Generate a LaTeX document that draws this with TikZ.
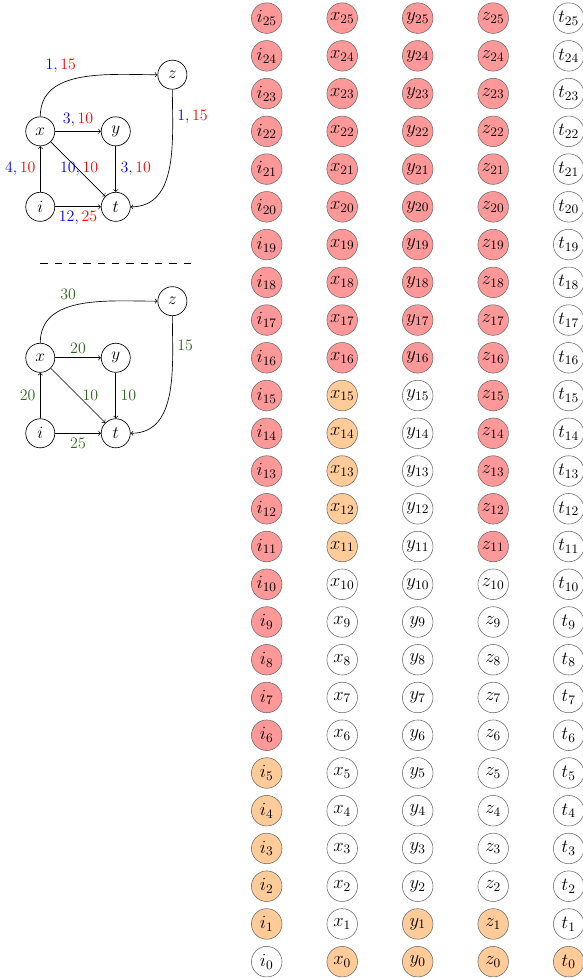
\documentclass[tikz,border=0pt]{standalone}
\usepackage{fix-cm}
\usetikzlibrary{positioning}
\colorlet{hot}{red!40}
\colorlet{warm}{orange!40}
\definecolor{capgreen}{RGB}{45,100,30}

\begin{document}
\begin{tikzpicture}[
    node distance=2cm, on grid,
    vertex/.style={draw, circle, line width=0.5pt, minimum size=0.77cm, inner sep=0pt, font=\fontsize{13}{15}\selectfont},
    cell/.style={draw=black!60, circle, minimum size=0.81cm, inner sep=0pt, font=\fontsize{14}{16}\selectfont},
    lbl/.style={font=\fontsize{12}{14}\selectfont},
    caplbl/.style={lbl, text=capgreen},
    link/.style={->, line width=0.5pt}
]
\useasboundingbox (-7.067,-0.432) rectangle (8.355,25.48);

% upper graph
\node[vertex] (ui) at (-6,20) {$i$};
\node[vertex, above=of ui] (ux) {$x$};
\node[vertex, right=of ux] (uy) {$y$};
\node[vertex, right=of ui] (ut) {$t$};
\node[vertex, above right=1.5cm and 1.5cm of uy] (uz) {$z$};
\draw[link] (ui) -- node[lbl, left] {$\color{blue}4,\color{red}10$} (ux);
\draw[link] (ux) -- node[lbl, above] {$\color{blue}3,\color{red}10$} (uy);
\draw[link] (uy) -- node[lbl, right] {$\color{blue}3,\color{red}10$} (ut);
\draw[link] (ux) -- node[lbl, midway, anchor=east, xshift=6.6mm] {$\color{blue}10,\color{red}10$} (ut);
\draw[link] (ui) -- node[lbl, below] {$\color{blue}12,\color{red}25$} (ut);
\draw[link] (ux) to[out=90, in=180] node[lbl, midway, above left] {$\color{blue}1,\color{red}15$} (uz);
\draw[link] (uz) to[out=-90, in=0] node[lbl, near start, above right] {$\color{blue}1,\color{red}15$} (ut);

\draw[dash pattern=on 5.5pt off 5.3pt] (-6,18.5) -- (-2,18.5);

% lower graph
\node[vertex] (li) at (-6,14) {$i$};
\node[vertex, above=of li] (lx) {$x$};
\node[vertex, right=of lx] (ly) {$y$};
\node[vertex, right=of li] (lt) {$t$};
\node[vertex, above right=1.5cm and 1.5cm of ly] (lz) {$z$};
\draw[link] (li) -- node[caplbl, left] {$20$} (lx);
\draw[link] (lx) -- node[caplbl, above] {$20$} (ly);
\draw[link] (ly) -- node[caplbl, right] {$10$} (lt);
\draw[link] (lx) -- node[caplbl, midway, anchor=east, xshift=6.6mm] {$10$} (lt);
\draw[link] (li) -- node[caplbl, below] {$25$} (lt);
\draw[link] (lx) to[out=90, in=180] node[caplbl, midway, above left] {$30$} (lz);
\draw[link] (lz) to[out=-90, in=0] node[caplbl, near start, above right] {$15$} (lt);

% time-expanded copies
\foreach \n in {0,...,25} {
  \ifnum\n>5 \def\colI{hot}\else\ifnum\n>0 \def\colI{warm}\else\def\colI{white}\fi\fi
  \ifnum\n>15 \def\colX{hot}\else\ifnum\n>10 \def\colX{warm}\else\ifnum\n>0 \def\colX{white}\else\def\colX{warm}\fi\fi\fi
  \ifnum\n>15 \def\colY{hot}\else\ifnum\n>1 \def\colY{white}\else\def\colY{warm}\fi\fi
  \ifnum\n>10 \def\colZ{hot}\else\ifnum\n>1 \def\colZ{white}\else\def\colZ{warm}\fi\fi
  \ifnum\n>0 \def\colT{white}\else\def\colT{warm}\fi
  \node[cell, fill=\colI] (i\n) at (0,\n) {$i_{\n}$};
  \node[cell, fill=\colX] (x\n) at (2,\n) {$x_{\n}$};
  \node[cell, fill=\colY] (y\n) at (4,\n) {$y_{\n}$};
  \node[cell, fill=\colZ] (z\n) at (6,\n) {$z_{\n}$};
  \node[cell, fill=\colT] (t\n) at (8,\n) {$t_{\n}$};
}
\end{tikzpicture}
\end{document}
